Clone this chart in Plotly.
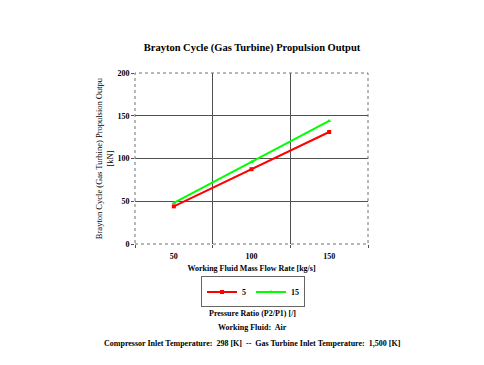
import plotly.graph_objects as go

mass_flow = [50, 100, 150]
series_names = ["5", "15"]
thrust_pr5 = [44, 87.5, 131]
thrust_pr15 = [48, 96, 144]
y_ticks = [0, 50, 100, 150, 200]

FONT = "Liberation Serif"

# page has an 8px body margin; plot area in page coords: x 135..368, y 73..244
OFF = 8
PL, PR, PT, PB = 135 - OFF, 368 - OFF, 73 - OFF, 244 - OFF
W, H = 484, 365

fig = go.Figure()
fig.add_trace(go.Scatter(x=mass_flow, y=thrust_pr5, name="<b>" + series_names[0] + "</b>", mode="lines+markers",
                         line=dict(color="#FF0000", width=2), marker=dict(size=4, symbol="square", color="#FF0000")))
fig.add_trace(go.Scatter(x=mass_flow, y=thrust_pr15, name="<b>" + series_names[1] + "</b>", mode="lines+markers",
                         line=dict(color="#00FF00", width=2), marker=dict(size=4, symbol="triangle-up", color="#00FF00")))

fig.update_layout(
    width=W, height=H,
    margin=dict(l=PL, r=W - PR, t=PT, b=H - PB),
    paper_bgcolor="white", plot_bgcolor="white",
    font=dict(family=FONT, size=8, color="black"),
    title=dict(text="<b>Brayton Cycle (Gas Turbine) Propulsion Output</b>", x=(252 - OFF) / W, xanchor="center",
               y=1 - (47 - OFF) / H, yanchor="middle", font=dict(size=10.5, family=FONT)),
    showlegend=True,
    legend=dict(orientation="h", x=(253 - 135) / 233, xanchor="center", y=-0.19, yanchor="top",
                bordercolor="#666666", borderwidth=1, font=dict(size=8, family=FONT),
                itemwidth=30, tracegroupgap=0),
)

fig.update_xaxes(range=[25, 175], tickvals=mass_flow, ticktext=["<b>%d</b>" % v for v in mass_flow],
                 showgrid=False, zeroline=False, ticks="", showline=False, ticklabelstandoff=6,
                 minor=dict(tick0=25, dtick=50, showgrid=True, gridcolor="#505050", gridwidth=1,
                            ticks="outside", ticklen=3, tickcolor="#505050"),
                 title=dict(text="<b>Working Fluid Mass Flow Rate [kg/s]</b>", standoff=5,
                            font=dict(size=8, family=FONT)),
                 tickfont=dict(size=8, family=FONT))
fig.update_yaxes(range=[0, 200], tickvals=y_ticks, ticktext=["<b>%d</b>" % v for v in y_ticks],
                 showgrid=True, gridcolor="#505050", gridwidth=1, zeroline=False,
                 ticks="outside", ticklen=3, tickcolor="#505050", showline=False,
                 title=dict(text="Brayton Cycle (Gas Turbine) Propulsion Outpu<br>[kN]", standoff=2,
                            font=dict(size=8.5, family=FONT)),
                 tickfont=dict(size=8, family=FONT))

fig.add_shape(type="rect", xref="paper", yref="paper", x0=0, y0=0, x1=1, y1=1,
              line=dict(color="#707070", width=1, dash="dot"))

notes = [
    ("<b>Pressure Ratio (P2/P1) [/]</b>", 313),
    ("<b>Working Fluid:  Air</b>", 327),
    ("<b>Compressor Inlet Temperature:  298 [K]  --  Gas Turbine Inlet Temperature:  1,500 [K]</b>", 343),
]
for txt, ypx in notes:
    fig.add_annotation(text=txt, xref="paper", yref="paper", x=(252 - 135) / 233,
                       y=(244 - ypx) / 171, xanchor="center", yanchor="middle",
                       showarrow=False, font=dict(size=8, family=FONT))

fig.write_html("out.html")
